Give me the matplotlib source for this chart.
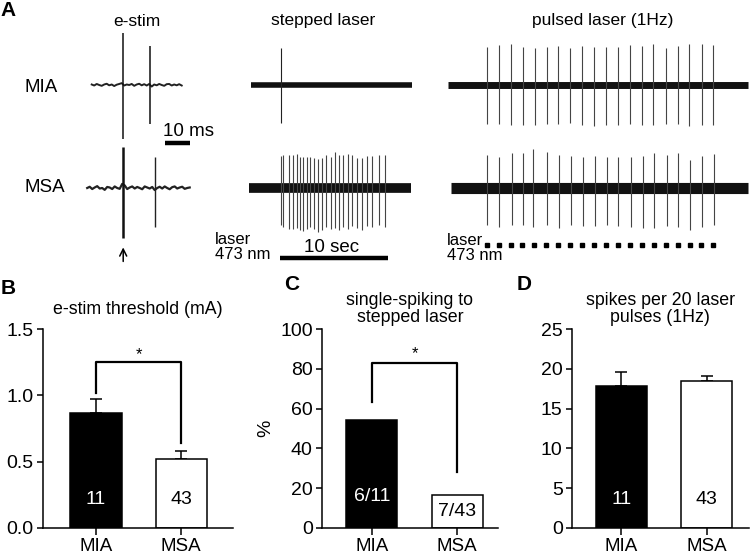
import numpy as np
import matplotlib
matplotlib.use('Agg')
import matplotlib.pyplot as plt

plt.rcParams['font.family'] = ['Liberation Sans', 'DejaVu Sans']
plt.rcParams['font.size'] = 12.5

W, H = 750, 559

# ---------------- panel A data (amplitude in relative units, 1 = row spacing)
# e-stim traces, time in ms (0 = stimulus)
estim_mia_start = -12.4
estim_mia_noise = [0.005, -0.005, 0.01, 0.0, -0.008, 0.005, 0.012, -0.003, 0.005, -0.01,
                   0.003, 0.01, 0.018, -0.005, 0.005, 0.0, 0.01, -0.008, 0.005, 0.012,
                   -0.003, 0.008, -0.005, 0.01, -0.015, 0.005, -0.003, 0.01, 0.0, -0.008,
                   0.008, 0.01, -0.005, 0.005, -0.003, 0.008, -0.005]
estim_mia_spk_t = [0.0, 11.0]
estim_mia_spk_top = [0.50, 0.38]
estim_mia_spk_bot = [-0.52, -0.38]

estim_msa_start = -14.2
estim_msa_noise = [0.0, 0.012, -0.01, 0.005, 0.018, -0.005, 0.0, -0.018, 0.01, 0.005,
                   -0.01, 0.015, 0.0, -0.008, 0.04, 0.025, -0.01, 0.005, 0.015, -0.005,
                   0.01, 0.0, -0.012, 0.015, 0.005, -0.005, 0.01, -0.02, 0.0, 0.012,
                   -0.005, 0.015, 0.0, -0.012, 0.008, 0.015, -0.005, 0.005, 0.012, -0.008,
                   0.0, 0.005]
estim_msa_spk_t = [0.0, 12.9]
estim_msa_spk_top = [0.40, 0.30]
estim_msa_spk_bot = [-0.49, -0.38]

# stepped laser, time in s (0 = laser on, 10 s step)
step_mia_span = [-2.7, 12.2]
step_mia_spk_t = [0.1]
step_mia_spk_top = [0.36]
step_mia_spk_bot = [-0.37]

step_msa_span = [-2.9, 12.1]
step_msa_spk_t = [0.06, 0.31, 0.83, 1.23, 1.60, 1.85, 2.16, 2.47, 2.78, 3.18, 3.55, 3.86,
                  4.26, 4.69, 5.09, 5.49, 5.86, 6.27, 6.64, 7.10, 7.56, 8.02, 8.55, 9.19, 9.72]
step_msa_spk_top = [0.31, 0.32, 0.32, 0.32, 0.33, 0.30, 0.30, 0.30, 0.30, 0.29, 0.28, 0.29,
                    0.32, 0.30, 0.35, 0.32, 0.32, 0.33, 0.32, 0.29, 0.29, 0.31, 0.31, 0.32, 0.32]
step_msa_spk_bot = [-0.36, -0.38, -0.40, -0.40, -0.39, -0.41, -0.42, -0.40, -0.38, -0.40, -0.43, -0.41,
                    -0.38, -0.40, -0.39, -0.41, -0.38, -0.40, -0.37, -0.39, -0.41, -0.37, -0.38, -0.36, -0.38]

# pulsed laser 1 Hz, time in s (0 = first pulse)
laser_pulses = [0, 1, 2, 3, 4, 5, 6, 7, 8, 9, 10, 11, 12, 13, 14, 15, 16, 17, 18, 19]

pulse_mia_span = [-3.25, 21.9]
pulse_mia_spk_t = [0.0, 1.03, 2.01, 3.02, 4.05, 5.03, 6.0, 6.98, 7.99, 8.99,
                   9.99, 10.97, 12.01, 12.99, 13.96, 15.0, 16.0, 16.98, 18.02, 18.99]
pulse_mia_spk_top = [0.37, 0.39, 0.40, 0.37, 0.36, 0.37, 0.38, 0.36, 0.38, 0.37,
                     0.37, 0.37, 0.39, 0.38, 0.40, 0.36, 0.38, 0.40, 0.40, 0.39]
pulse_mia_spk_bot = [-0.38, -0.38, -0.39, -0.39, -0.39, -0.38, -0.38, -0.37, -0.39, -0.40,
                     -0.39, -0.39, -0.38, -0.39, -0.39, -0.38, -0.38, -0.40, -0.39, -0.39]

pulse_msa_span = [-3.0, 21.9]
pulse_msa_spk_t = [0.05, 1.06, 2.10, 3.07, 3.91, 5.08, 6.09, 7.04, 8.05, 9.08,
                   10.06, 11.03, 12.07, 13.08, 14.05, 15.09, 16.06, 17.04, 18.02, 19.06]
pulse_msa_spk_top = [0.32, 0.30, 0.34, 0.34, 0.38, 0.35, 0.32, 0.31, 0.30, 0.31,
                     0.30, 0.30, 0.30, 0.31, 0.34, 0.32, 0.34, 0.27, 0.31, 0.33]
pulse_msa_spk_bot = [-0.36, -0.38, -0.36, -0.36, -0.38, -0.36, -0.39, -0.36, -0.37, -0.37,
                     -0.36, -0.37, -0.38, -0.39, -0.39, -0.37, -0.38, -0.41, -0.38, -0.36]

# ---------------- panels B-D data
groups = ['MIA', 'MSA']
thr_mean = [0.87, 0.52]
thr_sem = [0.10, 0.06]
thr_n = ['11', '43']

single_pct = [54.5, 16.3]
single_n = ['6/11', '7/43']

spk_mean = [17.8, 18.5]
spk_sem = [1.8, 0.6]
spk_n = ['11', '43']

fig = plt.figure(figsize=(W / 100, H / 100), dpi=100)

# trace axes share one vertical layout: MIA row at y=0, MSA row at y=-1
row_px = 103.0
y_hi = (85 - 20) / row_px
y_lo = -(270 - 85) / row_px
ax_bot = (H - 270) / H
ax_h = 250 / H
msa_off = -1.0
spike_col = '#444444'


def trace_axes(px_left, px_right, px_zero, px_per_unit):
    ax = fig.add_axes([px_left / W, ax_bot, (px_right - px_left) / W, ax_h])
    ax.set_xlim((px_left - px_zero) / px_per_unit, (px_right - px_zero) / px_per_unit)
    ax.set_ylim(y_lo, y_hi)
    ax.axis('off')
    return ax


def spikes(ax, t, top, bot, off, lw=0.8, color=spike_col):
    ax.vlines(t, np.array(bot) + off, np.array(top) + off, color=color, lw=lw)


# e-stim
ax1 = trace_axes(80, 222, 122.7, 2.5)
t = estim_mia_start + np.arange(len(estim_mia_noise))
ax1.plot(t, estim_mia_noise, color='#222222', lw=1.4)
spikes(ax1, estim_mia_spk_t, estim_mia_spk_top, estim_mia_spk_bot, 0, lw=1.1, color='#111111')
t = estim_msa_start + np.arange(len(estim_msa_noise))
ax1.plot(t, np.array(estim_msa_noise) + msa_off, color='#222222', lw=1.6)
spikes(ax1, estim_msa_spk_t[:1], estim_msa_spk_top[:1], estim_msa_spk_bot[:1], msa_off, lw=1.8, color='#111111')
spikes(ax1, estim_msa_spk_t[1:], estim_msa_spk_top[1:], estim_msa_spk_bot[1:], msa_off, lw=1.0, color='#222222')
ax1.plot([16.9, 26.9], [-0.563, -0.563], color='black', lw=3.2, solid_capstyle='butt')
ax1.text(16.1, -0.45, '10 ms', ha='left', va='center', fontsize=13.5)
ax1.annotate('', xy=(0.2, -1.55), xytext=(0.2, -1.74),
             arrowprops=dict(arrowstyle='->', lw=1.1, color='black'))

# stepped laser
ax2 = trace_axes(200, 425, 280, 10.8)
ax2.plot(step_mia_span, [0, 0], color='#111111', lw=4.0, solid_capstyle='butt')
spikes(ax2, step_mia_spk_t, step_mia_spk_top, step_mia_spk_bot, 0, color='#222222')
ax2.plot(step_msa_span, [msa_off, msa_off], color='#111111', lw=7.0, solid_capstyle='butt')
spikes(ax2, step_msa_spk_t, step_msa_spk_top, step_msa_spk_bot, msa_off)
ax2.plot([0, 10], [-1.68, -1.68], color='black', lw=3.2, solid_capstyle='butt')
ax2.text(4.8, -1.575, '10 sec', ha='center', va='center', fontsize=13.5)
ax2.text(-6.0, -1.57, 'laser\n473 nm', ha='left', va='center', fontsize=12, linespacing=1.0)

# pulsed laser
ax3 = trace_axes(435, 750, 486.7, 11.93)
ax3.plot(pulse_mia_span, [0, 0], color='#111111', lw=5.0, solid_capstyle='butt')
spikes(ax3, pulse_mia_spk_t, pulse_mia_spk_top, pulse_mia_spk_bot, 0)
ax3.plot(pulse_msa_span, [msa_off, msa_off], color='#111111', lw=8.0, solid_capstyle='butt')
spikes(ax3, pulse_msa_spk_t, pulse_msa_spk_top, pulse_msa_spk_bot, msa_off)
ax3.plot(laser_pulses, [-1.55] * len(laser_pulses), ls='none', marker='s', ms=2.4, color='black')
ax3.text(-3.35, -1.58, 'laser\n473 nm', ha='left', va='center', fontsize=12, linespacing=1.0)


def ftext(x, y, s, **kw):
    fig.text(x / W, 1 - y / H, s, **kw)


ftext(8, 11, 'A', fontsize=15, fontweight='bold', ha='center', va='center')
ftext(137, 21, 'e-stim', ha='center', va='center')
ftext(323, 21, 'stepped laser', ha='center', va='center')
ftext(603, 21, 'pulsed laser (1Hz)', ha='center', va='center')
ftext(25, 87, 'MIA', ha='left', va='center', fontsize=13.5)
ftext(25, 188, 'MSA', ha='left', va='center', fontsize=13.5)

# ---------------- bar panels
bar_bottom = (H - 527.7) / H
bar_h = 198.4 / H


def bar_axes(px_left, px_right, xlim):
    ax = fig.add_axes([px_left / W, bar_bottom, (px_right - px_left) / W, bar_h])
    ax.set_xlim(*xlim)
    for s in ['top', 'right']:
        ax.spines[s].set_visible(False)
    for s in ['left', 'bottom']:
        ax.spines[s].set_linewidth(1.1)
    ax.tick_params(direction='out', length=4, width=1.1, labelsize=14)
    ax.tick_params(axis='x', length=5, pad=2.5, labelsize=13.5)
    ax.tick_params(axis='y', pad=2.5)
    return ax


def bars(ax, vals, err, labels, label_y):
    x = np.arange(len(vals))
    ax.bar(x, vals, width=0.6, color=['black', 'white'], edgecolor='black', linewidth=1.1, zorder=2)
    if err is not None:
        ax.errorbar(x, vals, yerr=[[0, 0], err], fmt='none', ecolor='black',
                    elinewidth=1.1, capsize=4.5, capthick=1.1, zorder=1)
    txt = []
    for xi, lab, c in zip(x, labels, ['white', 'black']):
        txt.append(ax.text(xi, label_y, lab, ha='center', va='center', color=c,
                           fontsize=14, zorder=3))
    ax.set_xticks(x)
    ax.set_xticklabels(groups)
    return txt


def bracket(ax, left_y, top_y, right_y, star_y):
    ax.plot([0, 0, 1, 1], [left_y, top_y, top_y, right_y], color='black', lw=1.6)
    ax.text(0.5, star_y, '*', ha='center', va='center', fontsize=12)


def title(ax, s):
    ax.text(0.5, (527.7 - 309) / 198.4, s, transform=ax.transAxes, ha='center',
            va='center', fontsize=12.8, linespacing=1.0)


axB = bar_axes(42.7, 233, (-0.625, 1.606))
bars(axB, thr_mean, thr_sem, thr_n, 0.21)
axB.set_ylim(0, 1.5)
axB.set_yticks([0, 0.5, 1.0, 1.5])
axB.set_yticklabels(['0.0', '0.5', '1.0', '1.5'])
bracket(axB, 1.02, 1.25, 0.64, 1.31)
title(axB, 'e-stim threshold (mA)')

axC = bar_axes(321.7, 498, (-0.587, 1.478))
lab = bars(axC, single_pct, None, single_n, 15.5)
lab[1].set_y(8)
axC.set_ylim(0, 100)
axC.set_yticks([0, 20, 40, 60, 80, 100])
axC.set_ylabel('%', fontsize=14, labelpad=4)
bracket(axC, 63.5, 83, 28, 87.5)
title(axC, 'single-spiking to\nstepped laser')

axD = bar_axes(571.7, 749, (-0.58, 1.495))
bars(axD, spk_mean, spk_sem, spk_n, 3.5)
axD.set_ylim(0, 25)
axD.set_yticks([0, 5, 10, 15, 20, 25])
title(axD, 'spikes per 20 laser\npulses (1Hz)')

ftext(8, 289, 'B', fontsize=15, fontweight='bold', ha='center', va='center')
ftext(292, 285, 'C', fontsize=15, fontweight='bold', ha='center', va='center')
ftext(524, 285, 'D', fontsize=15, fontweight='bold', ha='center', va='center')

fig.savefig('out.png', dpi=100)
